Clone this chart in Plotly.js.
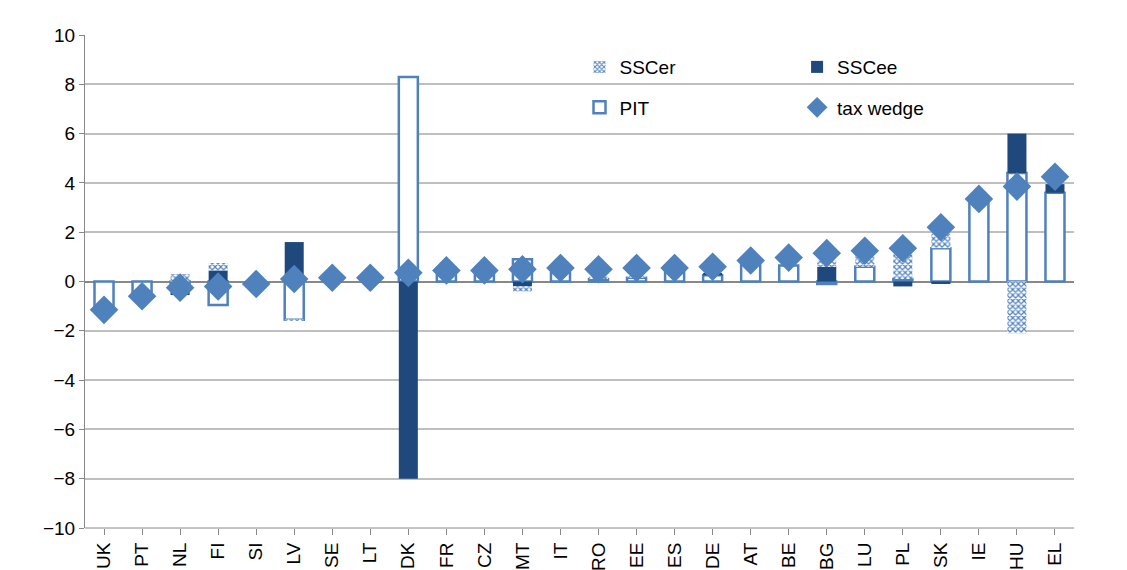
<!DOCTYPE html>
<html><head><script src="https://cdn.plot.ly/plotly-3.0.1.min.js"></script>
<style>body{margin:0;background:#fff}</style></head><body>
<div id="c" style="width:1127px;height:570px"></div>
<script>
const countries=["UK","PT","NL","FI","SI","LV","SE","LT","DK","FR","CZ","MT","IT","RO","EE","ES","DE","AT","BE","BG","LU","PL","SK","IE","HU","EL"];
const sscer=[0,-0.05,0.3,0.3,0,-0.05,0,0,0,0,0,-0.2,0,0.1,0.1,0,0,0,0,0.25,0.5,1.0,0.6,0,-2.1,0];
const sscee=[0,0,-0.4,0.45,0,1.6,0,0,-8.0,0,0,-0.2,0,0,0,0,0.1,0,0,0.6,0,-0.2,-0.1,0,1.6,0.35];
const pit=[-1.1,-0.5,-0.15,-0.95,0,-1.55,0,0,8.3,0.3,0.3,0.9,0.35,0.1,0.15,0.5,0.25,0.75,0.65,-0.1,0.6,0.1,1.35,3.2,4.4,3.6];
const wedge=[-1.15,-0.6,-0.25,-0.2,-0.1,0.1,0.15,0.15,0.35,0.45,0.45,0.5,0.55,0.5,0.55,0.55,0.6,0.85,0.97,1.15,1.25,1.35,2.2,3.35,3.85,4.25];
const blue="#4f81bd", dark="#1f497d";
const f={family:"Liberation Sans, Arial",size:19,color:"#000"};
const data=[
{type:"bar",name:"PIT",x:countries,y:pit,width:0.5,legend:"legend3",marker:{color:"#fff",line:{color:blue,width:2.5}}},
{type:"bar",name:"SSCee",x:countries,y:sscee,width:0.5,legend:"legend2",marker:{color:dark,line:{width:0}}},
{type:"bar",name:"SSCer",x:countries,y:sscer,width:0.5,legend:"legend",
 marker:{color:"#fff",line:{width:0},pattern:{shape:"x",fgcolor:blue,bgcolor:"#fff",size:4,solidity:0.5}}},
{type:"scatter",mode:"markers",name:"tax wedge",x:countries,y:wedge,legend:"legend4",
 marker:{symbol:"diamond",size:22,color:blue}}
];
const lg=(x,y)=>({x:x,y:y,xanchor:"left",yanchor:"middle",font:f,bgcolor:"rgba(0,0,0,0)",itemwidth:30});
const layout={
 width:1127,height:570,margin:{l:85,r:53,t:35,b:42},barmode:"relative",
 paper_bgcolor:"#fff",plot_bgcolor:"#fff",showlegend:true,
 xaxis:{range:[-0.5,25.5],tickangle:-90,tickfont:f,showgrid:false,ticks:"outside",ticklen:6,tickcolor:"#888",
   showline:false,zeroline:false},
 yaxis:{range:[-10,10],dtick:2,tickfont:f,gridcolor:"#bfbfbf",gridwidth:1.5,zeroline:true,zerolinecolor:"#888",
   zerolinewidth:1.5,showline:true,linecolor:"#888",ticks:"outside",tickcolor:"#888",ticklen:5},
 legend:lg(0.5,0.935), legend2:lg(0.72,0.935), legend3:lg(0.5,0.853), legend4:lg(0.72,0.853),
 shapes:[{type:"line",xref:"paper",yref:"paper",x0:0,x1:1,y0:0,y1:0,line:{color:"#888",width:1}}]
};
Plotly.newPlot("c",data,layout,{displayModeBar:false});
</script></body></html>
